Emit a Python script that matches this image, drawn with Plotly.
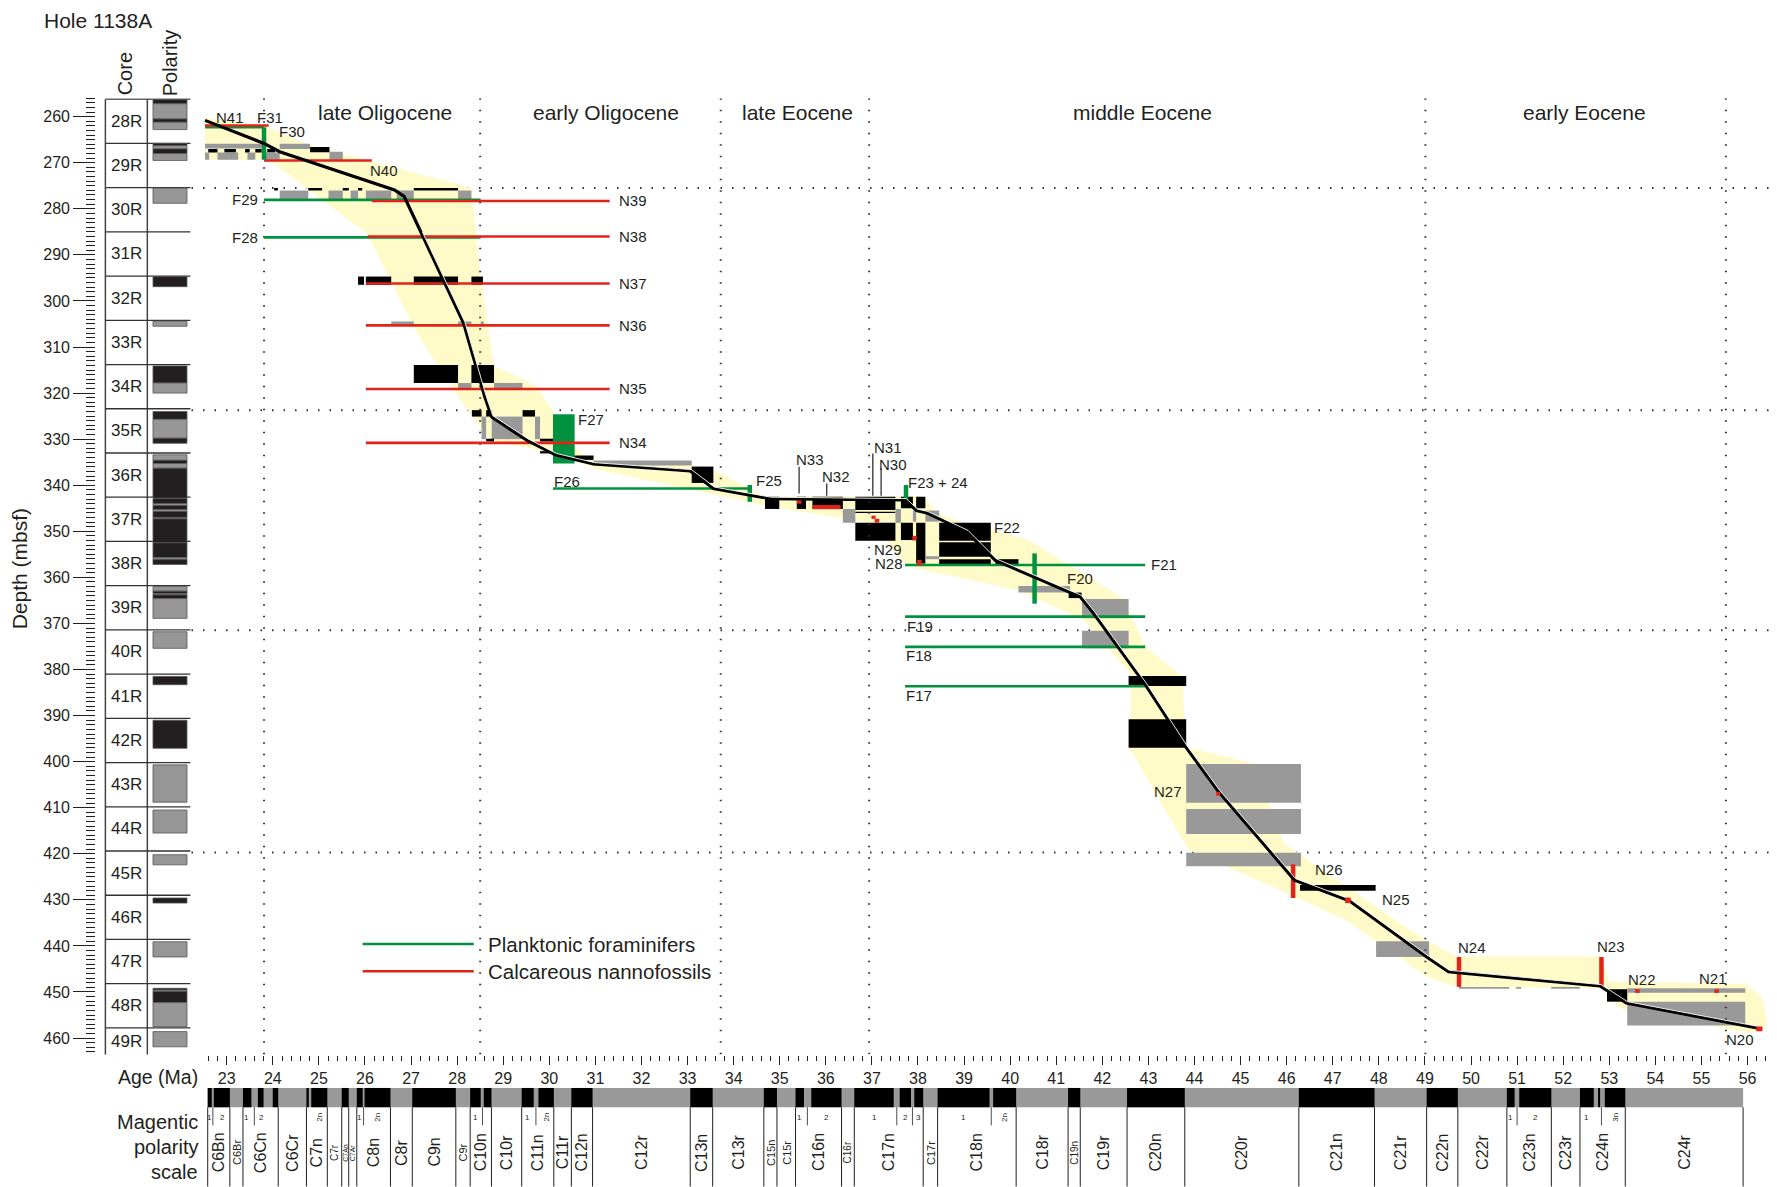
import plotly.graph_objects as go

# page coordinates of the reference (1568 x 1047 units), page body margin compensated
S = 1777 / 1568.0
def px(x): return (x * S - 8) / 1777.0
def py(y): return 1 - (y * S - 8) / 1187.0

FONT = "Liberation Sans, Arial, sans-serif"
INK = "#231F20"
GREEN = "#00923F"
RED = "#E2231A"
YELLOW = "#FFFBC8"
GRAY = "#999999"
BLK = "#000000"

# ---------------- data ----------------
core_names = ["28R","29R","30R","31R","32R","33R","34R","35R","36R","37R","38R",
              "39R","40R","41R","42R","43R","44R","45R","46R","47R","48R","49R"]
core_tops = [256.2, 265.8, 275.4, 285.0, 294.6, 304.2, 313.8, 323.4, 333.0, 342.6, 352.2,
             361.8, 371.4, 381.0, 390.6, 400.2, 409.8, 419.4, 429.0, 438.6, 448.2, 457.8]
core_bottom = 463.6

pol_top = [256.3, 257.2, 260.5, 261.2, 265.8, 266.3, 267.0, 268.0, 275.5, 294.7, 304.4,
           314.1, 317.8, 324.0, 325.7, 329.8, 333.4, 334.6, 335.3, 336.3,
           342.9, 344.0, 344.4, 345.3, 345.7, 347.0, 347.3, 352.5, 355.7, 356.1,
           362.0, 363.0, 363.5, 363.8, 364.6, 371.8, 381.5, 391.0, 400.7, 410.5,
           420.2, 429.6, 439.1, 449.2, 449.6, 449.9, 452.3, 458.6]
pol_bot = [257.2, 260.5, 261.2, 262.8, 266.3, 267.0, 268.0, 269.5, 278.8, 296.9, 305.5,
           317.8, 320.0, 325.7, 329.8, 330.9, 334.6, 335.3, 336.3, 342.8,
           344.0, 344.4, 345.3, 345.7, 347.0, 347.3, 352.5, 355.7, 356.1, 357.2,
           363.0, 363.5, 363.8, 364.6, 368.9, 375.4, 383.3, 397.1, 408.8, 415.5,
           422.4, 430.7, 442.4, 449.6, 449.9, 452.3, 457.5, 461.9]
pol_kind = ["n","r","n","r","n","r","n","r","r","n","r",
            "n","r","n","r","n","r","n","r","n",
            "n","r","n","r","n","r","n","n","r","n",
            "r","n","r","n","r","r","n","n","r","r",
            "r","n","r","n","r","n","r","r"]

# uncertainty envelope (upper-right edge then lower-left edge)
env_age = [22.53, 23.81, 24.72, 28.31, 28.51, 28.80, 29.74, 30.60, 31.11, 33.06, 33.57, 34.68,
           38.12, 38.42, 39.06, 40.38, 42.45, 42.67, 42.94, 43.75, 43.80, 45.30, 45.94, 48.69,
           49.04, 49.70, 52.83, 53.00, 55.95, 56.32, 56.44,
           56.07, 53.24, 52.82, 49.70, 49.04, 47.29, 46.16, 43.87, 42.60, 42.62, 42.60, 41.59,
           40.19, 37.75, 37.04, 34.80, 31.11, 30.08, 28.70, 28.07, 27.13, 26.05, 23.91, 22.53]
env_depth = [260.25, 261.97, 265.90, 275.50, 294.69, 314.12, 318.55, 332.33, 335.28, 335.52, 336.75, 342.41,
             342.41, 346.10, 348.31, 351.76, 364.55, 369.23, 375.13, 381.53, 396.78, 400.47, 417.69, 436.63,
             438.84, 442.29, 442.29, 447.70, 448.19, 451.14, 457.29,
             459.01, 453.60, 449.17, 448.93, 446.71, 434.41, 429.25, 419.16, 397.27, 385.21, 380.79, 369.23,
             362.83, 357.66, 348.31, 344.62, 336.75, 333.06, 330.11, 321.50, 306.99, 285.34, 269.35, 269.35]

# age-depth model
line_age = [22.53, 23.81, 24.15, 26.64, 26.85, 27.22, 28.14, 28.60, 28.75, 29.51, 30.13, 30.96,
            33.06, 33.56, 34.79, 37.72, 37.97, 38.19, 39.06, 39.68, 40.58, 41.52, 41.81, 42.94,
            43.81, 44.52, 46.17, 47.36, 49.04, 49.51, 52.80, 53.37, 56.32]
line_depth = [260.8, 265.8, 267.6, 275.9, 277.3, 285.3, 304.8, 320.8, 325.2, 330.2, 333.4, 335.4,
              336.9, 340.7, 342.9, 343.2, 345.5, 346.0, 350.1, 356.3, 360.2, 364.2, 367.8, 383.4,
              396.8, 406.5, 425.7, 430.2, 442.4, 445.6, 448.7, 452.4, 458.0]

# magnetostratigraphic correlation boxes
box_age0 = [22.53, 24.15, 24.81, 22.60, 22.95, 23.40, 23.62, 23.88, 22.53, 22.80, 23.45, 23.85, 25.23,
            24.03, 24.77, 25.52, 25.85, 27.06, 24.15, 25.21, 25.69, 26.02, 26.69, 28.02,
            25.85, 26.02, 27.06, 28.31, 26.57, 28.02, 28.51, 27.06, 28.31, 28.02, 28.80,
            28.32, 28.63, 29.42, 28.53, 28.75, 29.69, 28.63, 29.80, 29.80, 30.14, 30.52, 30.96, 33.09,
            34.68, 35.37, 35.71, 36.37, 36.64, 36.64, 36.64, 37.51, 37.63, 37.63, 37.89, 37.96, 37.96,
            38.16, 38.16, 38.46, 38.46, 38.46, 39.68, 40.18, 41.27, 41.56, 41.56, 42.57, 42.57,
            43.82, 43.82, 43.82, 46.29, 47.94, 49.74, 50.98, 51.74, 52.95, 53.39, 53.39]
box_age1 = [23.81, 24.81, 25.23, 22.80, 23.20, 23.50, 23.76, 24.05, 22.62, 23.25, 23.62, 24.15, 25.52,
            24.11, 25.07, 25.65, 25.94, 28.02, 24.77, 25.52, 25.85, 26.57, 27.06, 28.31,
            25.98, 26.57, 28.02, 28.56, 27.06, 28.31, 28.58, 28.02, 28.80, 28.31, 29.42,
            28.53, 28.75, 29.69, 28.63, 29.42, 29.80, 28.80, 30.14, 30.14, 30.52, 30.96, 33.09, 33.56,
            34.99, 35.57, 36.37, 36.64, 37.51, 37.51, 37.51, 37.63, 37.89, 37.89, 37.96, 38.16, 38.16,
            38.46, 38.46, 39.58, 39.58, 39.58, 40.18, 41.30, 41.55, 42.57, 42.57, 43.82, 43.82,
            46.31, 46.31, 46.31, 47.93, 49.09, 50.83, 51.09, 52.36, 53.39, 55.95, 55.95]
box_top = [265.9, 265.9, 266.6, 267.0, 267.0, 267.0, 267.0, 267.0, 267.75, 267.75, 267.75, 267.75, 267.6,
           275.5, 275.5, 275.5, 275.5, 275.5, 276.0, 276.0, 276.0, 276.0, 276.0, 276.0,
           294.7, 294.7, 294.7, 294.7, 304.45, 304.45, 304.45, 313.9, 313.9, 317.8, 317.8,
           323.7, 323.7, 323.7, 325.1, 325.1, 325.1, 329.9, 329.9, 332.6, 332.8, 333.55, 334.65, 335.95,
           342.5, 342.5, 342.5, 345.15, 342.5, 345.75, 348.15, 345.15, 342.5, 348.15, 345.5, 342.5, 348.15,
           345.5, 355.4, 348.15, 352.35, 356.05, 356.05, 361.85, 363.3, 364.7, 371.6, 381.4, 390.8,
           400.5, 410.3, 419.8, 426.8, 439.0, 448.9, 448.9, 448.9, 449.4, 452.1, 449.2]
box_bot = [266.9, 267.0, 267.7, 267.75, 267.75, 267.75, 267.75, 267.75, 269.35, 269.35, 269.35, 269.35, 269.35,
           276.0, 276.0, 276.0, 276.0, 276.0, 278.0, 278.0, 278.0, 278.0, 278.0, 278.0,
           296.5, 296.5, 296.5, 296.5, 305.2, 305.2, 305.2, 317.8, 317.8, 318.9, 318.9,
           325.1, 325.1, 325.1, 330.0, 330.0, 330.0, 330.5, 330.5, 333.1, 333.55, 334.5, 335.7, 339.5,
           345.15, 345.15, 345.15, 348.15, 345.4, 346.0, 352.05, 348.15, 345.0, 351.9, 347.9, 345.0, 357.0,
           347.9, 356.05, 352.05, 355.5, 357.1, 357.1, 363.3, 364.5, 368.9, 375.4, 383.6, 397.0,
           408.9, 415.7, 422.7, 428.0, 442.4, 449.3, 449.3, 449.3, 452.1, 457.3, 450.15]
box_kind = ["r","r","n","n","n","n","n","n","r","r","r","r","r",
            "n","n","n","n","n","r","r","r","r","r","r",
            "n","n","n","n","r","r","r","n","n","r","r",
            "n","n","n","r","r","r","n","n","n","r","n","r","n",
            "n","n","n","r","n","n","n","r","n","n","r","n","n",
            "r","r","n","n","n","n","r","n","r","r","n","n",
            "r","r","r","n","r","r","r","r","n","r","r"]

# biostratigraphic datums (horizontal ranges)
red_age0 = [22.53, 23.81, 26.15, 26.06, 26.02, 26.02, 26.02, 26.02]
red_age1 = [23.91, 26.15, 31.31, 31.31, 31.31, 31.31, 31.31, 31.31]
red_depth = [261.9, 269.5, 278.3, 286.0, 296.2, 305.3, 319.1, 330.8]
green_age0 = [22.53, 23.81, 23.81, 30.08, 37.72, 37.72, 37.72, 37.72]
green_age1 = [23.81, 28.51, 28.51, 34.35, 42.93, 42.93, 42.93, 42.93]
green_depth = [262.3, 278.06, 286.2, 340.7, 357.31, 368.53, 375.08, 383.62]
# vertical datum bars
gbar_age = [23.81, 34.35, 37.74, 40.53]
gbar_top = [262.3, 339.95, 339.95, 354.8]
gbar_bot = [269.35, 343.6, 343.5, 365.7]
rbar_age = [46.14, 49.74, 52.83]
rbar_top = [422.3, 442.4, 442.4]
rbar_bot = [429.6, 448.9, 448.9]
# F27 range box
f27_age = [30.08, 30.55]
f27_depth = [324.6, 335.3]
# small nannofossil markers
rdot_age0 = [35.37, 35.71, 36.99, 37.06, 37.88, 37.98, 44.47, 47.27, 53.56, 55.28, 56.19]
rdot_age1 = [35.47, 36.32, 37.08, 37.16, 37.97, 38.08, 44.56, 47.39, 53.66, 55.38, 56.32]
rdot_top = [343.3, 344.3, 346.6, 347.3, 351.0, 356.2, 406.6, 429.5, 449.4, 449.4, 457.5]
rdot_bot = [344.0, 345.2, 347.3, 348.1, 352.0, 357.4, 407.4, 430.7, 450.2, 450.2, 458.5]
# leader ticks
lead_age = [35.42, 36.02, 37.02, 37.20]
lead_top = [336.0, 339.6, 333.1, 336.3]
lead_bot = [341.8, 342.3, 342.3, 342.3]

lab_text = ["N41","F31","F30","N40","F29","F28","N39","N38","N37","N36","N35","N34","F27","F26",
            "F25","N33","N32","N31","N30","F23 + 24","F22","N29","N28","F21","F20","F19","F18","F17",
            "N27","N26","N25","N24","N23","N22","N21","N20"]
lab_age = [23.07, 23.64, 24.11, 26.41, 23.71, 23.71, 31.48, 31.48, 31.48, 31.48, 31.48, 31.48, 30.60, 30.08,
           34.46, 35.66, 36.22, 37.02, 37.13, 37.76, 39.63, 37.34, 37.38, 43.03, 41.22, 37.75, 37.72, 37.72,
           43.43, 46.60, 48.05, 49.69, 52.71, 53.39, 54.92, 55.51]
lab_depth = [260.2, 260.2, 263.2, 271.6, 278.06, 286.2, 278.3, 286.0, 296.2, 305.3, 319.1, 330.8, 325.7, 339.2,
             339.0, 334.4, 338.0, 331.8, 335.5, 339.5, 349.2, 353.9, 357.0, 357.2, 360.2, 370.6, 377.0, 385.6,
             406.5, 423.4, 430.0, 440.4, 440.1, 447.2, 447.0, 460.3]
lab_align = ["center","left","left","center","right","right","left","left","left","left","left","left","left","left",
             "left","center","center","left","left","left","left","center","center","left","left","left","left","left",
             "center","left","left","left","left","left","left","left"]

epoch_names = ["late Oligocene", "early Oligocene", "late Eocene", "middle Eocene", "early Eocene"]
epoch_mid = [26.44, 31.24, 35.39, 42.87, 52.46]
epoch_bounds = [23.81, 28.5, 33.72, 36.94, 49.01, 55.53]
grid_depths = [275.5, 323.7, 371.5, 419.7]

age_ticks = [23, 24, 25, 26, 27, 28, 29, 30, 31, 32, 33, 34, 35, 36, 37, 38, 39, 40,
             41, 42, 43, 44, 45, 46, 47, 48, 49, 50, 51, 52, 53, 54, 55, 56]
depth_ticks = [260, 270, 280, 290, 300, 310, 320, 330, 340, 350, 360, 370, 380, 390, 400,
               410, 420, 430, 440, 450, 460]

# geomagnetic polarity time scale
chron_names = ["C6Bn","C6Br","C6Cn","C6Cr","C7n","C7r","C7An","C7Ar","C8n","C8r","C9n","C9r",
               "C10n","C10r","C11n","C11r","C12n","C12r","C13n","C13r","C15n","C15r","C16n","C16r",
               "C17n","C17r","C18n","C18r","C19n","C19r","C20n","C20r","C21n","C21r","C22n","C22r",
               "C23n","C23r","C24n","C24r"]
chron_start = [22.588, 23.069, 23.353, 24.118, 24.730, 25.183, 25.496, 25.648, 25.823, 26.554, 27.027, 27.972,
               28.283, 28.745, 29.401, 30.098, 30.479, 30.939, 33.058, 33.545, 34.655, 34.940, 35.343, 36.341,
               36.618, 38.113, 38.426, 40.130, 41.257, 41.521, 42.536, 43.789, 46.264, 47.906, 49.037, 49.714,
               50.778, 51.743, 52.364, 53.347]
gpts_end = 55.904
normal_start = [22.588, 22.721, 23.353, 23.677, 23.999, 24.730, 24.835, 25.496, 25.823, 25.992, 27.027,
                28.283, 28.578, 29.401, 29.765, 30.479, 33.058, 34.655, 35.343, 35.685, 36.618, 37.604,
                37.920, 38.426, 39.631, 41.257, 42.536, 46.264, 49.037, 50.778, 51.047, 52.364, 52.757, 52.903]
normal_end = [22.676, 23.069, 23.535, 23.800, 24.118, 24.781, 25.183, 25.648, 25.951, 26.554, 27.972,
              28.512, 28.745, 29.662, 30.098, 30.939, 33.545, 34.940, 35.526, 36.341, 37.473, 37.848,
              38.113, 39.552, 40.130, 41.521, 43.789, 47.906, 49.714, 50.946, 51.743, 52.663, 52.801, 53.347]
sub_text = ["1","2","1","2","2n","1","2n","1","1","2n","1","2","1","2","3","1","2n","1","2","1","3n"]
sub_age = [22.63, 22.90, 23.44, 23.76, 25.01, 25.89, 26.27, 28.40, 29.53, 29.93, 35.43, 36.01,
           37.05, 37.73, 38.02, 38.99, 39.88, 50.86, 51.40, 52.51, 53.13]
sub_div = [22.70, 23.60, 25.97, 28.55, 29.71, 35.60, 37.54, 37.88, 39.59, 51.00, 52.83]

# ---------------- figure ----------------
fig = go.Figure()
shapes = []
ann = []

def txt(text, x, y, size, xref="paper", yref="paper", xanchor="center", yanchor="middle", angle=0, color=INK):
    ann.append(dict(text=text, x=x, y=y, xref=xref, yref=yref, xanchor=xanchor, yanchor=yanchor,
                    showarrow=False, textangle=angle, borderpad=0,
                    font=dict(family=FONT, size=size, color=color)))

# envelope
path = "M " + " L ".join(f"{a},{d}" for a, d in zip(env_age, env_depth)) + " Z"
shapes.append(dict(type="path", path=path, xref="x", yref="y", fillcolor=YELLOW,
                   line=dict(width=0), layer="below"))

# correlation boxes
for a0, a1, t, b, k in zip(box_age0, box_age1, box_top, box_bot, box_kind):
    shapes.append(dict(type="rect", x0=a0, x1=a1, y0=t, y1=b, xref="x", yref="y",
                       fillcolor=BLK if k == "n" else GRAY, line=dict(width=0), layer="below"))

# F27 box
shapes.append(dict(type="rect", x0=f27_age[0], x1=f27_age[1], y0=f27_depth[0], y1=f27_depth[1],
                   xref="x", yref="y", fillcolor=GREEN, line=dict(width=0), layer="below"))

# dotted grid
for a in epoch_bounds:
    shapes.append(dict(type="line", x0=a, x1=a, y0=256.0, y1=core_bottom, xref="x", yref="y",
                       line=dict(color="#333333", width=2, dash="1.5px,10px"), layer="below"))
for d in grid_depths:
    shapes.append(dict(type="line", x0=px(169), x1=px(1566), y0=d, y1=d, xref="paper", yref="y",
                       line=dict(color="#333333", width=2, dash="1.5px,10px"), layer="below"))

# core column
cl, cm, cr = px(93), px(130), px(168)
shapes.append(dict(type="line", x0=cl, x1=cl, y0=core_tops[0], y1=core_bottom, xref="paper", yref="y",
                   line=dict(color="#444", width=1.5)))
shapes.append(dict(type="line", x0=cm, x1=cm, y0=core_tops[0], y1=core_bottom, xref="paper", yref="y",
                   line=dict(color="#444", width=1.5)))
for i, (nm, t) in enumerate(zip(core_names, core_tops)):
    shapes.append(dict(type="line", x0=cl, x1=cr, y0=t, y1=t, xref="paper", yref="y",
                       line=dict(color="#333", width=1.3)))
    b = core_tops[i + 1] if i + 1 < len(core_tops) else core_bottom
    mid = (t + min(b, t + 9.6)) / 2
    txt(nm, px(111.5), mid, 17, yref="y")

for t, b, k in zip(pol_top, pol_bot, pol_kind):
    shapes.append(dict(type="rect", x0=px(135), x1=px(165), y0=t, y1=b, xref="paper", yref="y",
                       fillcolor="#231F20" if k == "n" else "#969696",
                       line=dict(color="#555", width=0.8)))

# leaders and dots
for a, t, b in zip(lead_age, lead_top, lead_bot):
    shapes.append(dict(type="line", x0=a, x1=a, y0=t, y1=b, xref="x", yref="y",
                       line=dict(color=INK, width=1.2)))
for a0, a1, t, b in zip(rdot_age0, rdot_age1, rdot_top, rdot_bot):
    shapes.append(dict(type="rect", x0=a0, x1=a1, y0=t, y1=b, xref="x", yref="y",
                       fillcolor=RED, line=dict(width=0)))

# datum lines as traces
def seg_xy(a0s, a1s, ds):
    xs, ys = [], []
    for a0, a1, d in zip(a0s, a1s, ds):
        xs += [a0, a1, None]
        ys += [d, d, None]
    return xs, ys

gx, gy = seg_xy(green_age0, green_age1, green_depth)
rx, ry = seg_xy(red_age0, red_age1, red_depth)
fig.add_trace(go.Scatter(x=gx, y=gy, mode="lines", line=dict(color=GREEN, width=2.6),
                         hoverinfo="skip", showlegend=False))
fig.add_trace(go.Scatter(x=rx, y=ry, mode="lines", line=dict(color=RED, width=2.6),
                         hoverinfo="skip", showlegend=False))

def vseg(ages, tops, bots):
    xs, ys = [], []
    for a, t, b in zip(ages, tops, bots):
        xs += [a, a, None]
        ys += [t, b, None]
    return xs, ys

vx, vy = vseg(gbar_age, gbar_top, gbar_bot)
fig.add_trace(go.Scatter(x=vx, y=vy, mode="lines", line=dict(color=GREEN, width=4.5),
                         hoverinfo="skip", showlegend=False))
vx, vy = vseg(rbar_age, rbar_top, rbar_bot)
fig.add_trace(go.Scatter(x=vx, y=vy, mode="lines", line=dict(color=RED, width=4.5),
                         hoverinfo="skip", showlegend=False))

# age-depth line (black with thin white highlight)
fig.add_trace(go.Scatter(x=line_age, y=line_depth, mode="lines", line=dict(color=BLK, width=3.2),
                         hoverinfo="skip", showlegend=False))
fig.add_trace(go.Scatter(x=[a + 0.025 for a in line_age[5:]], y=[d - 0.3 for d in line_depth[5:]],
                         mode="lines", line=dict(color="white", width=0.9),
                         hoverinfo="skip", showlegend=False))

# datum labels
for t, a, d, al in zip(lab_text, lab_age, lab_depth, lab_align):
    txt(t, a, d, 15, xref="x", yref="y", xanchor=al)

# epoch labels
for nm, a in zip(epoch_names, epoch_mid):
    txt(nm, a, 259.0, 21, xref="x", yref="y")

# title and column headers
txt("Hole 1138A", px(38), 1.0, 21, xanchor="left", yanchor="top")
txt("Core", px(110), py(65), 20, angle=-90)
txt("Polarity", px(150), py(55), 20, angle=-90)
txt("Depth (mbsf)", px(18), py(502), 21, angle=-90)
txt("Age (Ma)", px(176), py(950), 19.5, xanchor="right")

# legend
shapes.append(dict(type="line", x0=px(320), x1=px(418), y0=py(833), y1=py(833), xref="paper", yref="paper",
                   line=dict(color=GREEN, width=2.6)))
shapes.append(dict(type="line", x0=px(320), x1=px(418), y0=py(857), y1=py(857), xref="paper", yref="paper",
                   line=dict(color=RED, width=2.6)))
txt("Planktonic foraminifers", px(430), py(833), 20.5, xanchor="left")
txt("Calcareous nannofossils", px(430), py(857), 20.5, xanchor="left")

# magnetic polarity scale
bt, bb = py(960), py(977)
shapes.append(dict(type="rect", x0=chron_start[0], x1=gpts_end, y0=bb, y1=bt, xref="x", yref="paper",
                   fillcolor=GRAY, line=dict(width=0)))
for a0, a1 in zip(normal_start, normal_end):
    shapes.append(dict(type="rect", x0=a0, x1=a1, y0=bb, y1=bt, xref="x", yref="paper",
                       fillcolor=BLK, line=dict(width=0)))
ends = chron_start[1:] + [gpts_end]
small = {"C6Br": 11, "C7r": 10, "C7An": 7, "C7Ar": 7, "C9r": 11, "C15n": 11, "C15r": 11,
         "C16r": 10, "C17r": 11, "C19n": 10}
for nm, a0, a1 in zip(chron_names, chron_start, ends):
    shapes.append(dict(type="line", x0=a0, x1=a0, y0=py(1047), y1=bb, xref="x", yref="paper",
                       line=dict(color=INK, width=1)))
    txt(nm, (a0 + a1) / 2, py(1017), small.get(nm, 16), xref="x", angle=-90)
shapes.append(dict(type="line", x0=gpts_end, x1=gpts_end, y0=py(1047), y1=bb, xref="x", yref="paper",
                   line=dict(color=INK, width=1)))
for a in sub_div:
    shapes.append(dict(type="line", x0=a, x1=a, y0=py(993), y1=bb, xref="x", yref="paper",
                       line=dict(color=INK, width=0.8)))
for t, a in zip(sub_text, sub_age):
    txt(t, a, py(986), 8, xref="x", angle=-90 if len(t) > 1 else 0)
txt("Magentic", px(176), py(990), 20, xanchor="right")
txt("polarity", px(176), py(1012), 20, xanchor="right")
txt("scale", px(176), py(1034), 20, xanchor="right")

fig.update_layout(
    width=1777, height=1187, autosize=False,
    margin=dict(l=0, r=0, t=0, b=0),
    paper_bgcolor="white", plot_bgcolor="rgba(0,0,0,0)",
    showlegend=False,
    font=dict(family=FONT, color=INK),
    shapes=shapes, annotations=ann,
    xaxis=dict(range=[22.5, 56.6], domain=[px(179.7), px(1566.4)], anchor="y", side="bottom",
               showgrid=False, zeroline=False, showline=False,
               ticks="outside", ticklen=9, tickwidth=1.2, tickcolor=INK,
               tickmode="array", tickvals=age_ticks, ticktext=[str(v) for v in age_ticks],
               tickfont=dict(family=FONT, size=16, color=INK),
               minor=dict(ticks="outside", ticklen=5, tickwidth=1, tickcolor=INK,
                          tickmode="linear", tick0=0, dtick=0.2, showgrid=False)),
    yaxis=dict(range=[core_bottom, 256.0], domain=[py(930.6), py(86.7)], anchor="free",
               position=px(84), side="left",
               showgrid=False, zeroline=False, showline=False,
               ticks="outside", ticklen=22, tickwidth=1.3, tickcolor=INK,
               tickmode="array", tickvals=depth_ticks, ticktext=[str(v) for v in depth_ticks],
               tickfont=dict(family=FONT, size=16, color=INK),
               minor=dict(ticks="outside", ticklen=9, tickwidth=1, tickcolor=INK,
                          tickmode="linear", tick0=0, dtick=1, showgrid=False)),
)

fig.write_html("out.html")
